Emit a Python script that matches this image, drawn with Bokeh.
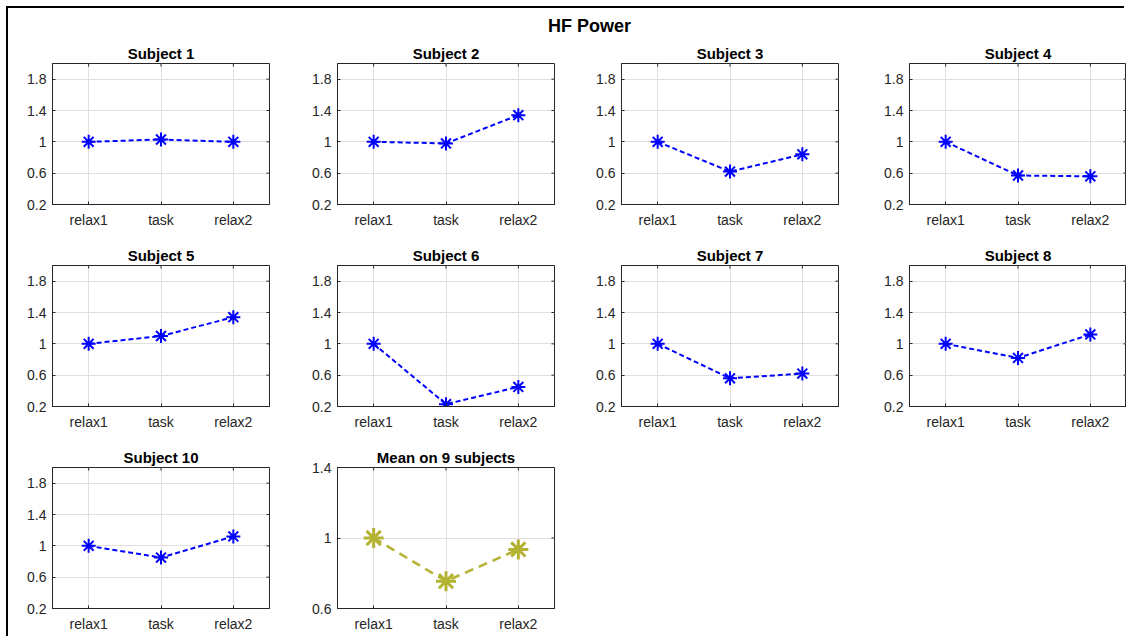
import math
from bokeh.plotting import figure
from bokeh.models import FactorRange, Range1d, FixedTicker, CustomJSTickFormatter
from bokeh.layouts import column, row
from bokeh.embed import file_html
from bokeh.resources import INLINE

# ---------------- data ----------------
conditions = ["relax1", "task", "relax2"]
main_title = "HF Power"
subject_titles = ["Subject 1", "Subject 2", "Subject 3", "Subject 4",
                  "Subject 5", "Subject 6", "Subject 7", "Subject 8",
                  "Subject 10"]
s1 = [1.00, 1.03, 1.00]
s2 = [1.00, 0.98, 1.34]
s3 = [1.00, 0.62, 0.84]
s4 = [1.00, 0.57, 0.56]
s5 = [1.00, 1.10, 1.34]
s6 = [1.00, 0.23, 0.45]
s7 = [1.00, 0.56, 0.62]
s8 = [1.00, 0.82, 1.12]
s10 = [1.00, 0.85, 1.12]
subject_values = [s1, s2, s3, s4, s5, s6, s7, s8, s10]
mean_title = "Mean on 9 subjects"
mean_values = [1.00, 0.755, 0.935]
subject_yticks = [0.2, 0.6, 1, 1.4, 1.8]
subject_ylim = (0.2, 2.0)
mean_yticks = [0.6, 1, 1.4]
mean_ylim = (0.6, 1.4)

# ---------------- style ----------------
FONT = "Liberation Sans"
AX = "#262626"
GRID = "#dfdfdf"
BLUE = "#0000ff"
OLIVE = "#b4b232"

col_widths = [285, 284, 288, 261]
col_right = [24, 23, 27, 0]
row_heights = [202, 202, 196]
row_bottom = [36, 36, 30]
LEFT = 44
TOP = 25

fmt = CustomJSTickFormatter(code="return String(Math.round(tick*10)/10);")


def panel(title, values, ylim, yticks, color, msize, lw, mlw, dash, ci, ri):
    p = figure(x_range=FactorRange(*conditions), y_range=Range1d(*ylim),
               width=col_widths[ci], height=row_heights[ri],
               min_border_left=LEFT, min_border_right=col_right[ci],
               min_border_top=TOP, min_border_bottom=row_bottom[ri],
               output_backend="svg", toolbar_location=None, title=title)
    p.title.align = "center"
    p.title.text_font = FONT
    p.title.text_font_size = "15px"
    p.title.text_font_style = "bold"
    p.title.text_color = "black"
    p.title.standoff = 4
    p.background_fill_color = "white"
    p.border_fill_color = "white"
    p.outline_line_color = AX
    p.outline_line_width = 1
    p.outline_line_alpha = 1

    for ax in (p.xaxis, p.yaxis):
        ax.axis_line_color = AX
        ax.major_tick_line_color = AX
        ax.major_tick_in = 3
        ax.major_tick_out = 0
        ax.minor_tick_line_color = None
        ax.major_label_text_font = FONT
        ax.major_label_text_font_size = "14px"
        ax.major_label_text_color = AX
    p.xaxis.major_label_standoff = 7
    p.yaxis.major_label_standoff = 6
    p.yaxis.ticker = FixedTicker(ticks=yticks)
    p.yaxis.formatter = fmt
    p.xgrid.grid_line_color = GRID
    p.ygrid.grid_line_color = GRID
    p.xgrid.grid_line_width = 1
    p.ygrid.grid_line_width = 1

    # mirrored tick marks on the right and top edges (box on), clipped to frame
    p.scatter([(conditions[-1], 0.5)] * len(yticks), yticks, marker="dash",
              size=6, line_color=AX, line_width=1)
    p.scatter(conditions, [ylim[1]] * len(conditions), marker="dash",
              angle=math.pi / 2, size=6, line_color=AX, line_width=1)

    p.line(conditions, values, line_color=color, line_width=lw, line_dash=dash)
    p.scatter(conditions, values, marker="asterisk", size=msize,
              line_color=color, line_width=mlw)
    return p


figs = []
for i, (t, v) in enumerate(zip(subject_titles, subject_values)):
    ci, ri = i % 4, i // 4
    figs.append(panel(t, v, subject_ylim, subject_yticks, BLUE, 14, 2, 2, "5 3", ci, ri))
mean_fig = panel(mean_title, mean_values, mean_ylim, mean_yticks, OLIVE, 20, 2.5, 3, "9 6", 1, 2)

# main title as a small empty figure
TW = sum(col_widths)
tfig = figure(width=TW, height=30, min_border_left=44, min_border_right=0,
              min_border_top=27, min_border_bottom=0, title=main_title,
              output_backend="svg", toolbar_location=None,
              x_axis_location=None, y_axis_location=None)
tfig.title.align = "center"
tfig.title.text_font = FONT
tfig.title.text_font_size = "18px"
tfig.title.text_font_style = "bold"
tfig.title.text_color = "black"
tfig.title.standoff = 0
tfig.outline_line_color = None
tfig.grid.visible = False
tfig.background_fill_color = "white"
tfig.border_fill_color = "white"

layout = column(tfig,
                row(*figs[0:4]),
                row(*figs[4:8]),
                row(figs[8], mean_fig),
                margin=(8, 0, 0, 8),
                styles={"box-shadow": "-2px -2px 0 0 #000"})

open("out.html", "w").write(file_html(layout, INLINE))
